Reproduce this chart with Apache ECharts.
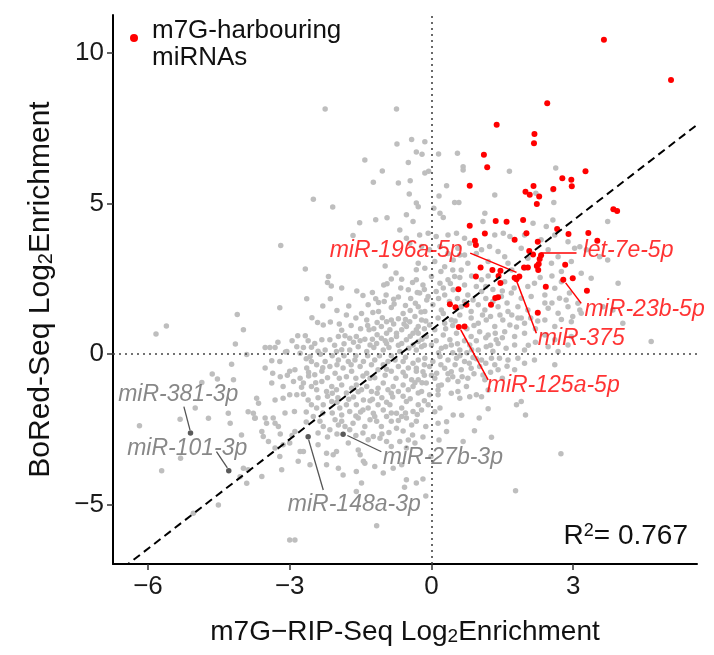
<!DOCTYPE html>
<html><head><meta charset="utf-8">
<script src="https://cdn.jsdelivr.net/npm/echarts@6/dist/echarts.min.js"></script>
<style>html,body{margin:0;padding:0;background:#fff}#c{width:714px;height:655px}</style>
</head><body><div id="c"></div>
<script>
// ---------- data ----------
const xTicks = [-6, -3, 0, 3];
const yTicks = [-5, 0, 5, 10];
const xRange = [-6.74, 5.62];
const yRange = [-6.97, 11.27];
const regression = { intercept: 0.81, slope: 1.212 };
const r2Value = '0.767';
const xTitleParts = ['m7G\u2212RIP-Seq Log', '2', 'Enrichment'];
const yTitleParts = ['BoRed-Seq Log', '2', 'Enrichment'];
const legendName = 'm7G-harbouring miRNAs';
const legendLines = ['m7G-harbouring', 'miRNAs'];

const grayPoints = [
// left sparse
[-4.11,1.32],[-5.61,0.94],[-5.83,0.67],[-3.98,0.81],[-4.15,0.34],[-3.91,-0.01],[-4.23,-0.33],[-4.86,-0.94],[-4.64,-0.66],[-4.53,-0.82],[-4.19,-0.85],
[-6.18,-2.38],[-5.71,-3.87],[-5.32,-2.16],[-5.31,-3.46],[-5.00,-1.79],[-4.72,-2.13],[-4.30,-1.96],[-4.26,-2.29],[-4.02,-2.68],[-3.88,-1.91],[-3.98,-3.79],[-3.88,-3.84],[-4.05,-4.07],[-3.91,-4.29],[-4.51,-5.01],[-5.04,-5.28],[-3.77,-1.96],[-3.74,-2.13],
// upper left
[-2.25,8.15],[-0.74,8.15],[-0.73,6.98],[-1.41,6.45],[-1.04,6.09],[-1.23,5.71],[-0.70,5.69],[-2.50,5.15],
[-0.42,7.13],[-0.32,6.72],[-0.49,6.37],[-0.45,5.76],[-0.47,5.32],
[-2.09,4.89],[-1.52,4.37],[-1.18,4.47],[-0.94,4.53],
[-0.32,5.02],[-0.28,4.90],[-0.53,4.63],[-0.39,4.41],[-0.67,4.13],[-0.46,3.69],
// centre-left upper
[-3.19,3.61],[-1.66,3.94],[-2.67,2.83],[-2.18,2.58],[-2.20,2.38],[-2.12,2.27],[-0.98,2.93],[-0.53,3.85],[-0.32,2.81],[-0.85,2.50],[-1.01,2.30],[-0.94,2.34],[-0.63,2.49],[-0.40,2.38],[-0.49,2.14],
[-2.64,1.84],[-2.14,1.84],[-3.21,1.54],[-1.34,1.64],[-1.18,1.84],[-1.12,1.72],[-0.96,1.97],[-0.80,1.83],[-0.79,1.67],[-0.44,1.85],[-0.34,1.69],
[-2.53,1.21],[-2.41,1.05],[-2.29,0.97],[-2.14,1.07],[-1.37,1.14],[-1.24,1.39],[-1.12,1.42],[-1.04,1.21],[-0.95,1.08],[-0.85,1.14],[-0.70,1.18],[-0.80,1.00],[-0.58,1.00],[-0.46,1.08],[-0.35,1.25],[-0.28,0.92],
[-1.32,0.81],[-1.22,0.85],[-1.06,0.92],[-0.88,0.81],[-0.74,0.70],[-0.63,0.81],[-0.53,0.92],[-0.39,0.70],[-0.32,0.81],
[-2.83,0.61],[-2.67,0.61],[-2.61,0.45],[-2.47,0.36],[-2.32,0.48],[-2.15,0.48],[-1.97,0.59],[-1.83,0.61],[-1.73,0.53],[-1.59,0.59],[-1.51,0.45],[-1.41,0.50],[-1.30,0.31],[-1.16,0.36],[-1.06,0.53],[-0.95,0.36],[-0.85,0.48],[-0.74,0.59],[-0.63,0.36],[-0.53,0.48],[-0.39,0.31],[-0.28,0.42],
[-3.52,0.22],[-3.42,0.22],[-3.31,0.22],[-2.71,0.22],[-2.54,0.23],[-2.25,0.14],[-2.01,0.09],[-1.73,0.14],[-1.37,0.09],[-1.02,0.14],[-0.67,0.09],[-0.32,0.14],[-3.06,0.09],[-2.57,-0.08],[-3.09,0.07],[-2.78,0.03],
[-1.45,1.95],[-1.58,2.10],[-1.25,2.05],[-0.65,2.20],[-0.70,1.90],[-0.55,1.62],[-1.48,1.35],[-1.60,1.20],[-1.80,1.30],[-1.95,1.00],[-1.70,0.95],[-1.50,0.85],[-1.15,1.05],[-0.60,1.35],[-0.45,1.45],[-0.22,1.40],[-0.95,0.70],[-1.15,0.65],[-1.90,0.80],[-2.05,0.30],[-1.85,0.35],[-1.55,0.25],[-1.22,0.22],[-0.90,0.22],[-0.48,0.20],[-0.20,0.50],[-2.40,0.10],[-2.85,0.25],[-2.95,0.45],[-3.25,0.40],[-0.12,1.10],[-0.15,0.85],[-0.10,1.80],[-0.15,2.15],
[-1.90,0.15],[-1.65,0.40],[-1.25,0.50],[-0.98,0.45],[-0.70,0.30],[-0.45,0.60],[-0.15,0.30],[-0.85,1.55],[-1.00,1.75],[-0.55,1.15],[-1.35,0.95],[-1.75,1.60],[-2.00,1.45],[-2.30,1.60],[-1.90,2.20],[-0.30,2.05],[-0.75,2.70],
// centre-left lower
[-3.38,-0.22],[-3.21,-0.24],[-3.52,-0.46],[-3.36,-0.63],[-3.00,-0.57],[-2.89,-0.52],[-2.78,-0.80],[-2.64,-0.46],[-2.54,-0.24],[-2.43,-0.35],[-2.47,-0.68],[-2.32,-0.57],[-2.25,-0.24],[-2.15,-0.41],[-2.04,-0.63],[-1.97,-0.19],[-1.87,-0.46],[-1.76,-0.24],[-1.69,-0.57],[-1.62,-0.19],[-1.51,-0.41],[-1.44,-0.24],[-1.37,-0.63],[-1.27,-0.35],[-1.20,-0.19],[-1.13,-0.52],[-1.02,-0.35],[-0.92,-0.24],[-0.85,-0.57],[-0.77,-0.19],[-0.70,-0.41],[-0.60,-0.24],[-0.49,-0.46],[-0.39,-0.30],[-0.32,-0.57],
[-3.38,-0.96],[-3.14,-1.07],[-2.92,-0.91],[-2.71,-0.96],[-2.54,-1.07],[-2.43,-1.18],[-2.32,-0.91],[-2.22,-1.24],[-2.11,-1.07],[-2.01,-1.18],[-1.90,-1.02],[-1.80,-1.29],[-1.69,-1.13],[-1.59,-1.02],[-1.48,-1.18],[-1.37,-1.07],[-1.27,-1.24],[-1.13,-1.13],[-1.02,-0.96],[-0.92,-1.18],[-0.81,-1.07],[-0.70,-1.24],[-0.60,-1.02],[-0.49,-1.18],[-0.39,-1.07],[-0.28,-1.29],
[-3.70,-1.46],[-3.66,-1.63],[-3.31,-1.52],[-3.14,-1.46],[-3.00,-1.35],[-2.85,-1.35],[-2.71,-1.33],[-2.61,-1.52],[-2.54,-1.68],[-2.43,-1.79],[-2.29,-1.68],[-2.11,-1.57],[-1.94,-1.79],[-1.80,-1.68],[-1.73,-1.90],[-1.59,-1.68],[-1.44,-1.52],[-1.34,-1.79],[-1.23,-1.96],[-1.13,-1.68],[-1.02,-1.85],[-0.88,-1.68],[-0.74,-1.96],[-0.63,-1.79],[-0.53,-1.57],[-0.39,-1.90],[-0.28,-1.68],
[-3.73,-2.12],[-3.52,-2.12],[-3.49,-2.29],[-3.35,-2.12],[-3.31,-2.29],[-3.24,-2.40],[-3.59,-2.57],[-3.56,-2.73],[-2.89,-2.57],[-2.50,-2.07],[-2.36,-2.23],[-2.29,-2.40],[-2.15,-2.51],[-2.04,-2.18],[-1.97,-2.35],[-1.90,-2.23],[-1.83,-2.40],[-1.73,-2.51],[-1.66,-2.29],[-1.55,-2.12],[-1.41,-2.40],[-1.30,-2.18],[-1.20,-2.07],[-1.16,-2.23],[-1.06,-2.40],[-0.95,-2.07],[-0.85,-2.23],[-0.74,-2.46],[-0.63,-2.07],[-0.53,-2.12],[-0.42,-2.35],[-0.32,-2.23],
[-3.45,-2.90],[-3.31,-3.12],[-3.21,-3.40],[-3.14,-3.01],[-3.00,-2.95],[-2.78,-3.23],[-2.71,-3.23],[-2.40,-3.01],[-2.22,-3.29],[-2.08,-3.34],[-2.01,-3.23],[-1.76,-2.95],[-1.55,-3.18],[-1.51,-3.34],[-1.44,-3.56],[-1.34,-2.84],[-1.23,-2.73],[-1.09,-2.79],[-0.95,-2.90],[-0.85,-3.07],[-0.67,-2.90],[-0.53,-3.12],[-0.35,-2.95],
[-3.59,-4.06],[-3.17,-3.84],[-2.82,-3.56],[-2.57,-3.67],[-2.22,-3.67],[-1.97,-3.79],[-1.87,-4.01],[-1.59,-3.90],[-1.48,-4.28],[-1.41,-3.62],[-1.20,-3.73],[-1.02,-3.95],[-0.81,-3.79],[-0.63,-3.67],[-0.53,-4.17],[-0.32,-4.28],
[-3.00,-6.17],[-2.89,-6.17],[-1.59,-4.56],[-1.16,-5.70],[-0.49,-2.85],
[-3.20,-0.75],[-3.05,-0.70],[-2.60,-0.72],[-2.20,-0.78],[-1.95,-0.80],[-1.80,-0.75],[-1.60,-0.80],[-1.45,-0.72],[-1.20,-0.78],[-0.98,-0.70],[-0.75,-0.80],[-0.55,-0.72],[-0.42,-0.85],
[-2.40,-1.45],[-2.20,-1.40],[-1.98,-1.45],[-1.65,-1.42],[-1.25,-1.50],[-1.05,-1.45],[-0.82,-1.42],[-0.60,-1.40],[-0.45,-1.48],
[-3.10,-1.95],[-2.90,-1.90],[-2.65,-1.92],[-2.10,-1.95],[-1.90,-2.02],[-1.50,-1.92],[-1.30,-1.55],[-0.95,-1.60],[-0.85,-1.95],[-0.55,-1.95],
[-3.20,-2.65],[-2.95,-2.70],[-2.40,-2.62],[-2.20,-2.75],[-2.00,-2.65],[-1.60,-2.70],[-1.45,-2.62],[-0.90,-2.60],[-0.60,-2.55],[-0.40,-2.68],
[-0.15,-0.35],[-0.55,-0.10],[-0.85,-0.05],[-1.10,-0.05],[-1.35,-0.05],[-1.60,-0.05],[-1.85,-0.05],[-2.10,-0.05],[-2.35,0.00],[-2.65,-0.15],[-0.20,-0.95],[-0.15,-1.55],[-0.30,-2.00],[-0.12,-2.40],[-0.18,-2.75],
[-0.60,-0.60],[-0.95,-0.50],[-1.30,-0.80],[-1.55,-1.25],[-1.15,-1.30],[-0.85,-1.30],[-0.35,-0.95],[-0.15,-0.70],[-1.70,-0.35],[-2.00,-0.35],[-2.30,-0.45],[-2.60,-0.60],[-2.75,-1.10],[-2.45,-0.95],[-2.10,-1.30],[-1.75,-1.50],[-1.45,-1.85],[-2.00,-1.60],[-2.30,-1.95],[-2.65,-2.25],[-1.05,-2.65],[-0.70,-2.20],[-1.60,-2.05],
// upper right
[0.16,5.26],[0.49,5.04],[0.58,5.04],[1.34,5.29],[2.57,5.46],[2.59,5.04],[0.05,4.85],[0.18,4.68],[0.25,4.54],[1.09,4.41],[1.13,4.68],[2.15,4.35],[2.43,4.24],[2.57,4.46],
[-0.14,7.06],[-0.20,6.64],[0.15,6.65],[0.55,6.68],[0.67,6.23],[0.67,6.12],[-0.14,6.02],[-0.06,6.08],[1.65,6.08],[2.63,6.19],[0.32,5.60],[2.21,5.35],
// centre-right upper
[-0.25,3.96],[-0.07,4.02],[0.10,3.91],[0.35,3.96],[0.53,4.02],[0.70,3.85],[0.81,3.69],[1.34,3.96],[1.52,4.02],[1.66,3.91],[1.97,3.96],[2.32,3.80],[2.61,3.96],[2.89,3.74],
[-0.21,3.58],[-0.04,3.47],[0.18,3.58],[0.35,3.35],[0.56,3.52],[0.70,3.30],[1.06,3.47],[1.23,3.58],[1.41,3.41],[1.55,3.24],[1.90,3.52],[2.04,3.19],[2.47,3.47],[2.68,3.24],[3.03,3.52],
[-0.28,3.02],[-0.14,2.86],[0.07,3.08],[0.28,2.91],[0.46,3.13],[0.63,2.80],[0.77,3.02],[1.20,3.08],[1.62,3.02],[1.97,2.86],[2.54,3.02],[2.75,2.75],[2.96,3.08],[3.17,2.69],
[-0.32,2.47],[-0.18,2.30],[0.00,2.58],[0.18,2.36],[0.35,2.47],[0.49,2.58],[0.70,2.30],[1.06,2.47],[1.55,2.41],[2.04,2.25],[2.18,2.36],[2.61,2.19],[2.75,2.41],
[-0.25,2.03],[-0.07,1.92],[0.10,2.08],[0.28,1.97],[0.46,2.14],[0.77,1.97],[0.88,1.80],[1.06,2.08],[1.48,1.92],[1.69,2.03],[1.90,1.86],[2.11,1.92],[2.40,1.97],[2.71,1.86],[2.92,2.03],[3.10,1.69],
[-0.28,1.58],[-0.14,1.42],[0.03,1.64],[0.21,1.47],[0.63,1.58],[0.84,1.42],[0.99,1.64],[1.13,1.47],[1.41,1.58],[1.62,1.42],[1.83,1.58],[2.04,1.47],[2.47,1.53],[2.68,1.36],[2.89,1.58],[3.14,1.47],
[-0.21,1.14],[-0.04,0.97],[0.14,1.20],[0.28,1.03],[0.42,1.14],[0.84,1.20],[0.99,1.03],[1.16,1.14],[1.34,0.92],[1.51,1.14],[1.66,0.97],[1.83,1.20],[1.97,1.03],[2.40,1.14],[2.61,0.92],[2.96,1.08],
[-0.28,0.70],[-0.11,0.59],[0.07,0.81],[0.25,0.64],[0.39,0.48],[0.53,0.70],[0.84,0.59],[1.02,0.75],[1.20,0.64],[1.37,0.48],[1.55,0.75],[1.76,0.59],[1.97,0.70],[2.40,0.64],[2.61,0.48],[2.96,0.59],
[-0.21,0.25],[0.00,0.31],[0.21,0.20],[0.42,0.31],[0.60,0.14],[0.81,0.31],[0.99,0.14],[1.16,0.25],[1.41,0.36],[1.58,0.20],[1.76,0.31],[1.97,0.14],[2.47,0.25],[2.68,0.09],[2.89,0.31],
[0.10,0.45],[0.30,0.85],[0.45,0.95],[0.60,1.30],[0.90,0.95],[1.08,1.30],[1.25,1.25],[1.45,1.30],[1.70,1.30],[0.15,1.85],[0.38,1.75],[0.55,1.85],[1.30,1.75],[1.60,1.70],[1.15,1.85],[0.70,0.45],[0.95,0.45],[1.25,0.30],[1.50,0.55],[1.80,0.90],[2.20,0.85],[2.20,0.40],[2.05,0.30],
[0.25,2.20],[0.60,2.55],[0.85,2.60],[0.45,2.80],[0.20,2.75],[1.20,2.60],[0.60,3.30],[0.95,3.35],[1.70,2.80],[1.15,2.25],[1.30,2.15],[2.40,1.70],[2.25,1.10],[2.75,1.15],[2.55,1.70],[2.30,2.55],[2.55,2.60],
[0.30,0.25],[0.55,0.35],[0.85,0.15],[0.75,0.85],[0.50,1.10],[0.25,1.35],[0.70,1.75],[0.95,2.25],[0.40,2.35],[1.50,2.10],[1.75,2.20],[1.90,1.20],[2.10,1.20],[1.35,0.70],[1.15,0.55],
// centre-right lower
[-0.28,-0.19],[-0.14,-0.13],[0.03,-0.24],[0.18,-0.08],[0.35,-0.19],[0.53,-0.13],[0.70,-0.24],[0.88,-0.11],[1.06,-0.19],[1.27,-0.13],
[-0.32,-0.47],[-0.18,-0.58],[-0.04,-0.41],[0.11,-0.63],[0.28,-0.47],[0.42,-0.58],[0.63,-0.52],[0.84,-0.47],[1.02,-0.41],[1.41,-0.52],
[-0.28,-0.85],[-0.11,-0.96],[0.07,-0.80],[0.21,-1.02],[0.35,-0.85],[0.56,-0.91],[0.77,-0.80],[1.13,-0.85],
[-0.21,-1.24],[-0.04,-1.35],[0.14,-1.19],[0.56,-1.24],[0.74,-1.07],[0.95,-1.35],
[0.81,-1.41],[0.60,-1.46],[0.42,-1.30],[0.14,-1.35],[-0.07,-1.68],[-0.21,-1.85],[0.07,-1.91],[0.18,-1.79],
[1.09,-0.69],[1.34,-0.35],[1.76,-0.52],[1.97,-0.30],[1.44,-0.13],[1.62,-0.19],[1.83,-0.13],[2.18,-0.19],[2.61,-0.35],
[0.15,0.05],[0.45,0.05],[0.75,0.05],[1.30,0.10],[0.20,-0.35],[0.50,-0.35],[0.80,-0.30],[1.15,-0.30],[1.60,-0.40],[0.00,-0.70],[0.45,-0.75],[0.90,-0.65],[1.25,-0.60],[1.50,-0.80],
[0.60,-0.05],[0.35,-0.65],[0.65,-0.75],[0.15,-1.05],[0.95,-0.15],
[2.74,-3.31],[1.78,-4.54],[1.99,-2.02],[1.80,-1.68],[1.90,-1.57],[1.20,-1.81],[1.01,-2.12],[0.91,-2.54],[1.27,-2.76],[0.64,-2.03],[0.46,-2.02],[0.32,-2.24],[0.32,-2.57],[0.16,-2.85],[0.14,-2.29],[-0.01,-3.40],[-0.18,-4.15],[-0.12,-4.71],[-0.57,-4.42],[0.67,-2.90],[1.06,-1.41],[1.20,-1.19],
// far right
[3.73,4.41],[3.56,3.24],[3.73,3.13],[3.38,2.52],[3.95,2.36],[3.63,1.58],[3.84,1.47],[4.05,1.03],[4.65,0.42],[3.28,3.47],[3.14,3.57],[2.85,1.80],[2.99,1.25],[3.17,1.36]
];

const m7gPoints = [
[3.65,10.45],[5.07,9.11],[2.45,8.34],[1.38,7.62],[2.18,7.32],[2.17,7.01],[1.11,6.63],[1.18,6.21],[3.26,6.08],[2.77,5.85],
[2.96,5.80],[2.97,5.58],[0.81,5.60],[2.16,5.59],[2.58,5.49],[1.99,5.40],[2.08,5.30],[2.28,5.24],[2.23,4.99],[3.85,4.82],
[3.93,4.76],[0.81,4.27],[1.36,4.43],[1.59,4.40],[1.94,4.46],[2.66,4.16],[1.13,4.01],[2.01,4.02],[2.90,3.99],[3.32,4.03],
[0.92,3.77],[0.94,3.63],[1.76,3.80],[2.25,3.74],[3.51,3.77],[2.07,3.43],[2.15,3.31],[2.32,3.29],[2.29,3.16],[2.27,3.00],
[2.23,2.93],[2.26,2.80],[2.83,2.97],[1.04,2.88],[1.29,2.80],[1.46,2.77],[1.96,2.88],[2.04,2.88],[0.94,2.58],[1.42,2.60],
[1.76,2.54],[1.86,2.58],[1.80,2.49],[1.46,2.37],[2.79,2.47],[2.99,2.52],[2.42,2.24],[3.29,2.11],[0.57,2.16],[1.41,1.89],
[1.35,1.87],[1.26,1.64],[0.39,1.66],[0.51,1.56],[0.74,1.64],[2.25,1.38],[0.58,0.90],[0.70,0.92]
];

// labelled grey miRNAs
const grayLabelNames = ['miR-381-3p', 'miR-101-3p', 'miR-148a-3p', 'miR-27b-3p'];
const grayLabelPoints = [[-5.10,-2.62],[-4.29,-3.87],[-2.61,-2.74],[-1.87,-2.66]];
const grayLabelText = [[-6.63,-1.35],[-6.44,-3.15],[-3.04,-5.00],[-1.03,-3.45]];
const grayArrowFrom = [[-5.24,-1.74],[-4.55,-3.24],[-2.29,-4.51],[-1.06,-3.24]];
const grayArrowTo = [[-5.11,-2.52],[-4.32,-3.78],[-2.60,-2.84],[-1.78,-2.70]];

// labelled red miRNAs
const redLabelNames = ['miR-196a-5p', 'let-7e-5p', 'miR-23b-5p', 'miR-375', 'miR-125a-5p'];
const redLabelText = [[0.66,3.43],[3.20,3.43],[3.24,1.47],[2.25,0.51],[1.17,-1.05]];
const redLabelAlign = ['right','left','left','left','left'];
const redArrowFrom = [[0.82,3.36],[3.07,3.36],[3.17,1.69],[2.22,0.70],[1.20,-0.85]];
const redArrowTo = [[1.80,2.72],[2.31,3.36],[2.84,2.37],[1.80,2.44],[0.62,0.81]];

// ---------- chart ----------
const FONT = "'Liberation Sans','DejaVu Sans',Arial,sans-serif";
const GRAY = '#bebebe', RED = '#ff0000', DARK = '#6a6a6a';
const minusFmt = v => String(v).replace('-', '\u2212');
const subRich = (size) => ({ s: { fontSize: size, lineHeight: 8, verticalAlign: 'bottom', fontFamily: FONT, color: '#111' } });
const titleText = p => p[0] + '{s|' + p[1] + '}' + p[2];

function arrowData(from, to) {
  return from.map((f, i) => [{ coord: f }, { coord: to[i] }]);
}
function labelData(names, pos, aligns) {
  return names.map((n, i) => ({
    name: n, value: pos[i],
    label: { position: (aligns && aligns[i] === 'right') ? 'left' : 'right', distance: 0 }
  }));
}

const chart = echarts.init(document.getElementById('c'), null, { renderer: 'canvas' });
const regX = [xRange[0], xRange[1]];
chart.setOption({
  animation: false,
  backgroundColor: '#fff',
  textStyle: { fontFamily: FONT },
  grid: { left: 113, right: 17, top: 15, bottom: 91, containLabel: false },
  legend: {
    data: [legendName], left: 125, top: 29, orient: 'vertical',
    icon: 'circle', itemWidth: 8, itemHeight: 8,
    formatter: () => '',
    selectedMode: false
  },
  xAxis: {
    type: 'value', min: xRange[0], max: xRange[1],
    name: titleText(xTitleParts), nameLocation: 'middle', nameGap: 54,
    nameTextStyle: { fontSize: 28, color: '#111', fontFamily: FONT, rich: subRich(19) },
    axisLine: { show: true, onZero: false, lineStyle: { color: '#000', width: 2 } },
    axisTick: { show: true, length: 6, customValues: xTicks, lineStyle: { color: '#333', width: 1.5 } },
    axisLabel: { customValues: xTicks, formatter: minusFmt, fontSize: 26, color: '#1a1a1a', margin: 10, fontFamily: FONT },
    splitLine: { show: false }
  },
  yAxis: {
    type: 'value', min: yRange[0], max: yRange[1],
    name: titleText(yTitleParts), nameLocation: 'middle', nameGap: 57,
    nameTextStyle: { fontSize: 30, color: '#111', fontFamily: FONT, rich: subRich(20) },
    axisLine: { show: true, onZero: false, lineStyle: { color: '#000', width: 2 } },
    axisTick: { show: true, length: 6, customValues: yTicks, lineStyle: { color: '#333', width: 1.5 } },
    axisLabel: { customValues: yTicks, formatter: minusFmt, fontSize: 26, color: '#1a1a1a', margin: 9, fontFamily: FONT },
    splitLine: { show: false }
  },
  graphic: [{
    type: 'text', right: 26, top: 522,
    style: {
      text: 'R{sup|2}= ' + r2Value, fontSize: 28, fontFamily: FONT, fill: '#111',
      rich: { sup: { fontSize: 18, lineHeight: 12, verticalAlign: 'top', fontFamily: FONT, fill: '#111' } }
    }
  }, {
    type: 'text', left: 152, top: 17,
    style: { text: legendLines.join('\n'), fontSize: 26, lineHeight: 27, fontFamily: FONT, fill: '#111' }
  }],
  series: [
    {
      name: 'others', type: 'scatter', data: grayPoints, symbolSize: 5.5,
      itemStyle: { color: GRAY, opacity: 1 }, z: 2, silent: true,
      markLine: {
        silent: true, symbol: ['none', 'none'], animation: false,
        label: { show: false },
        lineStyle: { color: '#444', width: 1.6, type: [2, 4] },
        data: [{ xAxis: 0 }, { yAxis: 0 }]
      }
    },
    {
      name: 'labelled', type: 'scatter', data: grayLabelPoints, symbolSize: 5.5,
      itemStyle: { color: '#5a5a5a', opacity: 1 }, z: 3, silent: true,
      markLine: {
        silent: true, symbol: ['none', 'arrow'], symbolSize: [0, 6], animation: false,
        label: { show: false },
        lineStyle: { color: '#555', width: 1.3, type: 'solid' },
        data: arrowData(grayArrowFrom, grayArrowTo)
      }
    },
    {
      name: legendName, type: 'scatter', data: m7gPoints, symbolSize: 6,
      itemStyle: { color: RED, opacity: 1 }, z: 4, silent: true,
      markLine: {
        silent: true, symbol: ['none', 'arrow'], symbolSize: [0, 7], animation: false,
        label: { show: false },
        lineStyle: { color: RED, width: 1.5, type: 'solid' },
        data: arrowData(redArrowFrom, redArrowTo)
      }
    },
    {
      name: 'regression', type: 'line', clip: true, silent: true, symbol: 'none', z: 5,
      data: regX.map(x => [x, regression.intercept + regression.slope * x]),
      lineStyle: { color: '#000', width: 2, type: [8, 5] }
    },
    {
      name: 'grayLabels', type: 'scatter', symbolSize: 0, silent: true, z: 6,
      data: labelData(grayLabelNames, grayLabelText),
      label: { show: true, formatter: '{b}', fontSize: 23, fontStyle: 'italic', color: DARK, fontFamily: FONT }
    },
    {
      name: 'redLabels', type: 'scatter', symbolSize: 0, silent: true, z: 6,
      data: labelData(redLabelNames, redLabelText, redLabelAlign),
      label: { show: true, formatter: '{b}', fontSize: 23, fontStyle: 'italic', color: RED, fontFamily: FONT }
    }
  ]
});
</script></body></html>
